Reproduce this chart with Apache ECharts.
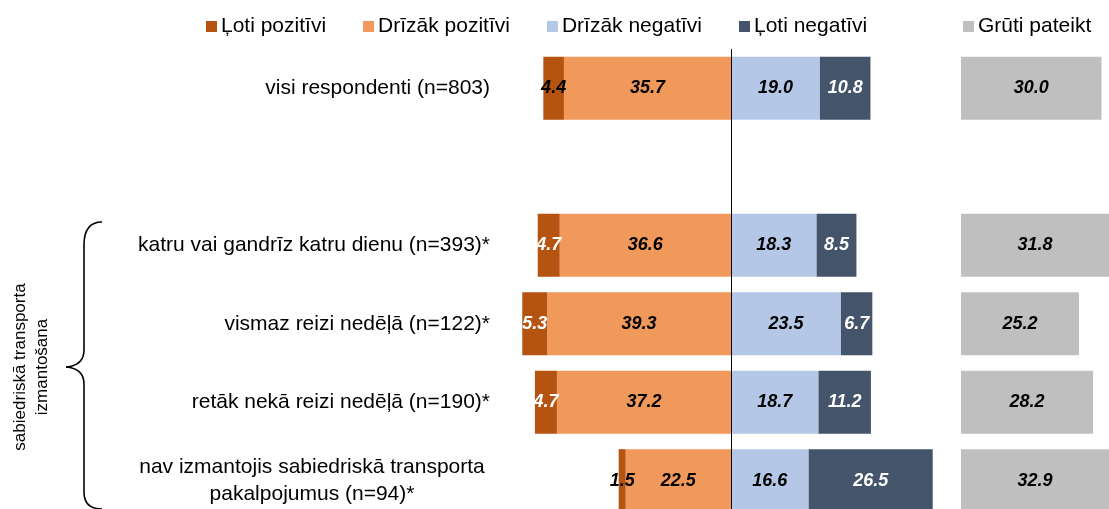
<!DOCTYPE html>
<html>
<head>
<meta charset="utf-8">
<script src="https://cdn.jsdelivr.net/npm/echarts@6/dist/echarts.min.js"></script>
<style>
  html, body { margin: 0; padding: 0; background: #fff; }
  #chart { width: 1109px; height: 509px; }
</style>
</head>
<body>
<div id="chart"></div>
<script>
// rindu nosaukumi (tukšā rinda = atstarpe)
var categories = [
  'visi respondenti (n=803)',
  '',
  'katru vai gandrīz katru dienu (n=393)*',
  'vismaz reizi nedēļā (n=122)*',
  'retāk nekā reizi nedēļā (n=190)*',
  'nav izmantojis sabiedriskā transporta\npakalpojumus (n=94)*'
];
var lotiPozitivi    = [4.4, null, 4.7, 5.3, 4.7, 1.5];
var drizakPozitivi  = [35.7, null, 36.6, 39.3, 37.2, 22.5];
var drizakNegativi  = [19.0, null, 18.3, 23.5, 18.7, 16.6];
var lotiNegativi    = [10.8, null, 8.5, 6.7, 11.2, 26.5];
var grutiPateikt    = [30.0, null, 31.8, 25.2, 28.2, 32.9];
// 4.4 un 1.5 ir ar melnu tekstu, pārējie balti
var lotiPozLabelColor = ['#000', '#000', '#fff', '#fff', '#fff', '#000'];

var labelFont = { fontFamily: 'Liberation Sans', fontSize: 18, fontWeight: 'bold', fontStyle: 'italic' };

function neg(arr) {
  return arr.map(function (v) { return v == null ? null : -v; });
}
function barLabel(color) {
  return Object.assign({
    show: true,
    position: 'inside',
    color: color,
    formatter: function (p) { return p.value == null ? '' : Math.abs(p.value).toFixed(1); }
  }, labelFont);
}

var chart = echarts.init(document.getElementById('chart'));

// figūriekava
var braceStyle = { fill: 'none', stroke: '#000', lineWidth: 1.6 };
function curve(a, b, c1, c2) {
  return { type: 'bezierCurve', shape: { x1: a[0], y1: a[1], x2: b[0], y2: b[1], cpx1: c1[0], cpy1: c1[1], cpx2: c2[0], cpy2: c2[1] }, style: braceStyle };
}
function seg(a, b) {
  return { type: 'line', shape: { x1: a[0], y1: a[1], x2: b[0], y2: b[1] }, style: braceStyle };
}

var legendText = { fontSize: 21, color: '#000', fontFamily: 'Liberation Sans', padding: [0, 0, 0, -1] };

var option = {
  animation: false,
  textStyle: { fontFamily: 'Liberation Sans' },
  legend: [
    {
      left: 201, top: 11,
      itemWidth: 11, itemHeight: 11, itemGap: 37,
      icon: 'rect',
      textStyle: legendText,
      data: ['Ļoti pozitīvi', 'Drīzāk pozitīvi', 'Drīzāk negatīvi', 'Ļoti negatīvi']
    },
    {
      left: 958, top: 11,
      itemWidth: 11, itemHeight: 11,
      icon: 'rect',
      textStyle: legendText,
      data: ['Grūti pateikt']
    }
  ],
  grid: [
    { left: 497, width: 468, top: 49, bottom: -11, outerBoundsMode: 'none' },
    { left: 961, width: 148, top: 49, bottom: -11, outerBoundsMode: 'none' }
  ],
  xAxis: [
    { gridIndex: 0, type: 'value', min: -50, max: 50, show: false },
    { gridIndex: 1, type: 'value', min: 0, max: 31.6, show: false }
  ],
  yAxis: [
    {
      gridIndex: 0, type: 'category', inverse: true, data: categories,
      axisLine: { show: false }, axisTick: { show: false },
      axisLabel: {
        margin: 7,
        fontSize: 21,
        color: '#000',
        lineHeight: 27,
        formatter: function (v) {
          if (v.indexOf('\n') < 0) return v;
          return v.split('\n').map(function (s) { return '{c|' + s + '}'; }).join('\n');
        },
        rich: { c: { width: 356, align: 'center', fontSize: 21, lineHeight: 27, color: '#000' } }
      }
    },
    { gridIndex: 1, type: 'category', inverse: true, data: categories, show: false }
  ],
  series: [
    {
      name: 'Drīzāk pozitīvi', type: 'bar', stack: 'a', barCategoryGap: '19.5%',
      data: neg(drizakPozitivi), itemStyle: { color: '#F0995B' },
      label: barLabel('#000'),
      markLine: {
        silent: true, symbol: 'none', animation: false,
        lineStyle: { color: '#000', width: 1, type: 'solid' },
        label: { show: false },
        data: [{ xAxis: 0 }]
      }
    },
    {
      name: 'Ļoti pozitīvi', type: 'bar', stack: 'a',
      data: neg(lotiPozitivi).map(function (v, i) {
        return { value: v, label: { color: lotiPozLabelColor[i] } };
      }),
      itemStyle: { color: '#B55311' },
      label: barLabel('#fff')
    },
    {
      name: 'Drīzāk negatīvi', type: 'bar', stack: 'a',
      data: drizakNegativi, itemStyle: { color: '#B4C7E7' },
      label: barLabel('#000')
    },
    {
      name: 'Ļoti negatīvi', type: 'bar', stack: 'a',
      data: lotiNegativi, itemStyle: { color: '#44546A' },
      label: barLabel('#fff')
    },
    {
      name: 'Grūti pateikt', type: 'bar', xAxisIndex: 1, yAxisIndex: 1,
      barCategoryGap: '19.5%', clip: true,
      data: grutiPateikt, itemStyle: { color: '#BFBFBF' },
      label: barLabel('#000')
    }
  ],
  graphic: [
    curve([102, 222], [84, 245], [90, 222], [84, 230]),
    seg([84, 245], [84, 350]),
    curve([84, 350], [66, 367], [84, 360], [78, 366]),
    curve([66, 367], [84, 384], [78, 368], [84, 374]),
    seg([84, 384], [84, 492]),
    curve([84, 492], [102, 509], [84, 503], [90, 509]),
    {
      type: 'text',
      x: 31, y: 367,
      rotation: Math.PI / 2,
      style: {
        text: 'sabiedriskā transporta\nizmantošana',
        fontFamily: 'Liberation Sans', fontSize: 17, lineHeight: 22,
        fill: '#000', align: 'center', verticalAlign: 'middle'
      }
    }
  ]
};

chart.setOption(option);
</script>
</body>
</html>
